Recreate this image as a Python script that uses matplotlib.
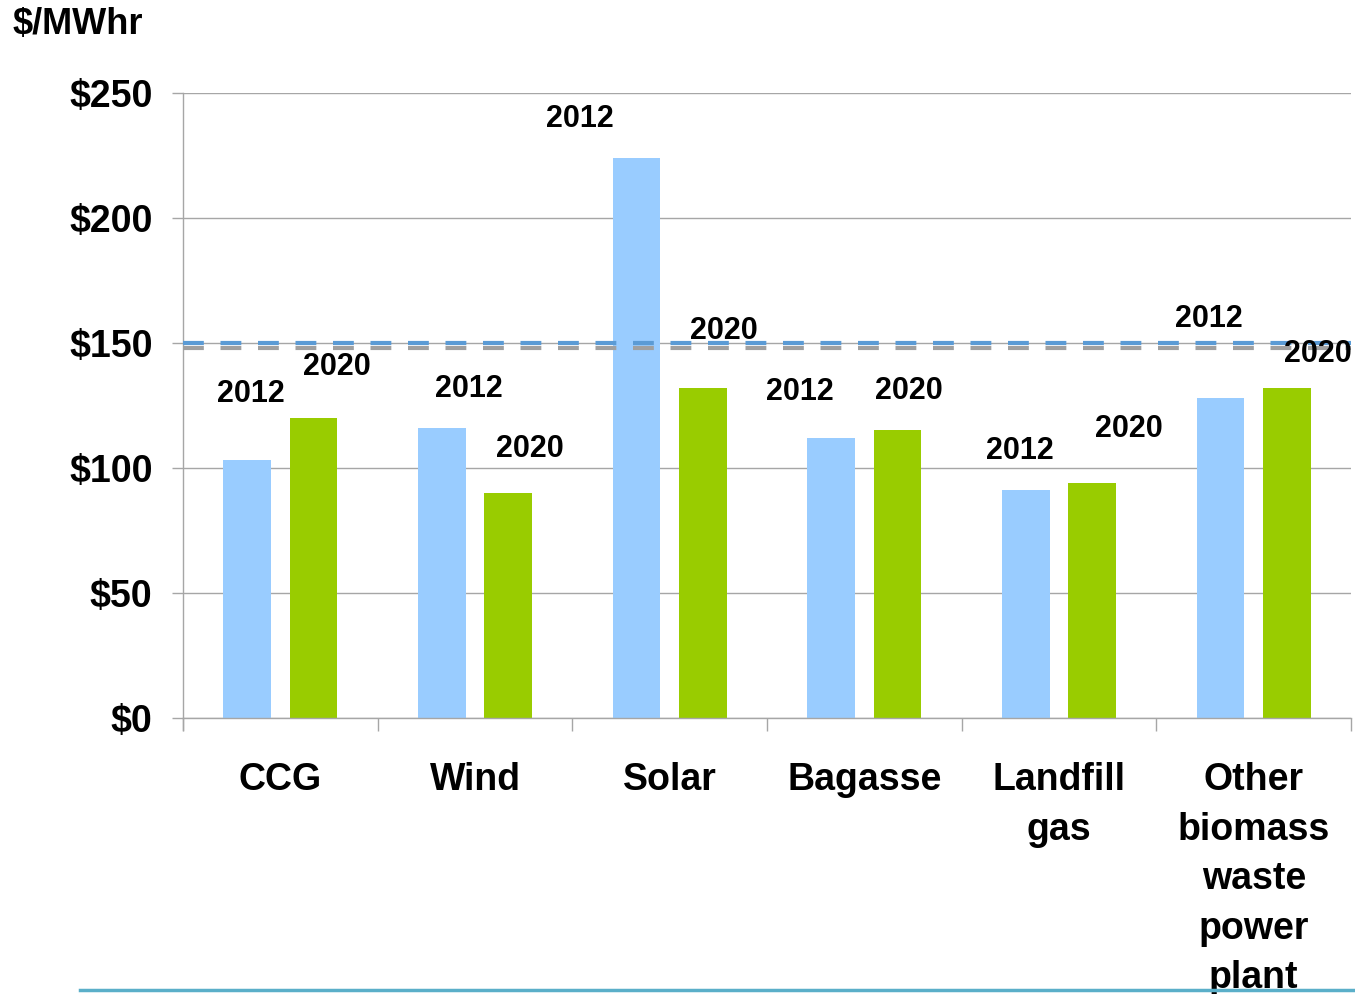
import numpy as np
import matplotlib.pyplot as plt
from matplotlib.lines import Line2D

plt.rcParams['font.family'] = ['Liberation Sans', 'DejaVu Sans']
plt.rcParams['font.weight'] = 'bold'

categories = ["CCG", "Wind", "Solar", "Bagasse", "Landfill\ngas",
              "Other\nbiomass\nwaste\npower\nplant"]
cost_2012 = [103, 116, 224, 112, 91, 128]
cost_2020 = [120, 90, 132, 115, 94, 132]
ref_2012 = 150
ref_2020 = 148

# label placement (x offset from category centre, y in $/MWhr)
lab_dx_2012 = [-0.15, -0.03, -0.46, -0.33, -0.20, -0.23]
lab_y_2012 = [129.6, 131.6, 239.6, 130.4, 106.8, 159.6]
lab_dx_2020 = [0.29, 0.28, 0.28, 0.23, 0.36, 0.33]
lab_y_2020 = [140.4, 107.6, 154.8, 130.8, 115.6, 145.6]

yticks = [0, 50, 100, 150, 200, 250]
ytick_labels = ["$0", "$50", "$100", "$150", "$200", "$250"]

grid_c = "#A6A6A6"

fig = plt.figure(figsize=(13.55, 9.94), dpi=100)
ax = fig.add_axes([0.1351, 0.2777, 0.8620, 0.6287])

x = np.arange(len(categories))
w = 0.245
off = 0.17
ax.bar(x - off, cost_2012, w, color="#99CCFF", zorder=2)
ax.bar(x + off, cost_2020, w, color="#99CC00", zorder=2)

ax.axhline(ref_2020, color="#A0A0A0", lw=3, ls=(0, (5, 4)), zorder=3)
ax.axhline(ref_2012, color="#5B9BD5", lw=3, ls=(0, (5, 4)), zorder=4)

for i in range(len(categories)):
    ax.text(x[i] + lab_dx_2012[i], lab_y_2012[i], "2012", ha="center",
            va="center", fontsize=22, fontweight="bold", zorder=5)
    ax.text(x[i] + lab_dx_2020[i], lab_y_2020[i], "2020", ha="center",
            va="center", fontsize=22, fontweight="bold", zorder=5)

ax.set_xlim(-0.5, len(categories) - 0.5)
ax.set_ylim(0, 250)
ax.set_yticks(yticks)
ax.set_yticklabels(ytick_labels, fontsize=27, fontweight="bold")
ax.yaxis.grid(True, color=grid_c, lw=1, zorder=0)
ax.tick_params(axis="y", length=8, color=grid_c, width=1, pad=14)

ax.set_xticks(x)
ax.set_xticklabels(categories, fontsize=27, fontweight="bold",
                   linespacing=1.48, va="top")
ax.set_xticks(np.arange(len(categories) + 1) - 0.5, minor=True)
ax.tick_params(axis="x", which="major", length=0, pad=32)
ax.tick_params(axis="x", which="minor", length=9, color=grid_c, width=1)

for s in ["top", "right"]:
    ax.spines[s].set_visible(False)
for s in ["left", "bottom"]:
    ax.spines[s].set_color(grid_c)
    ax.spines[s].set_linewidth(1)
ax.spines["left"].set_bounds(0, 250)

# left spine continues below the baseline like the category ticks
ax.plot([-0.5, -0.5], [0, -5], color=grid_c, lw=1, clip_on=False)

fig.text(0.0096, 0.975, "$/MWhr", fontsize=26, fontweight="bold",
         ha="left", va="center")

fig.add_artist(Line2D([0.059, 1.0], [0.004, 0.004], color="#5AAFC9", lw=2.5,
                      transform=fig.transFigure))

plt.savefig("out.png", dpi=100)
